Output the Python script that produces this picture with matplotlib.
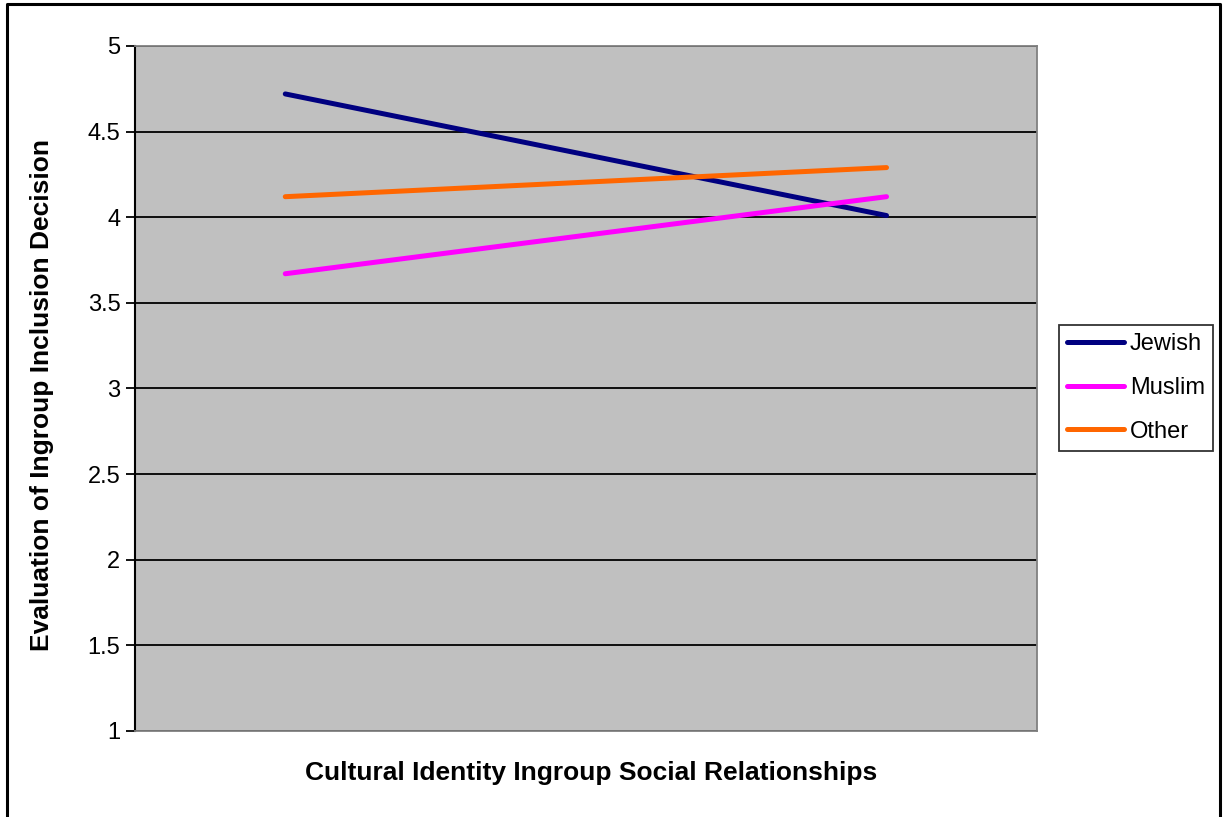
import matplotlib.pyplot as plt
from matplotlib.lines import Line2D

plt.rcParams['font.family'] = ['Liberation Sans', 'DejaVu Sans']

# Data (two levels of the x factor)
levels = [0, 1]
jewish = [4.72, 4.01]
muslim = [3.67, 4.12]
other = [4.12, 4.29]

series_names = ["Jewish", "Muslim", "Other"]
series_colors = ["#000080", "#FF00FF", "#FF6600"]
y_ticks = [1, 1.5, 2, 2.5, 3, 3.5, 4, 4.5, 5]
y_tick_labels = ["1", "1.5", "2", "2.5", "3", "3.5", "4", "4.5", "5"]

fig = plt.figure(figsize=(12.27, 8.17), dpi=100, facecolor="white")
ax = fig.add_axes([0.110, 0.1053, 0.735, 0.8384])
ax.set_facecolor("#C0C0C0")

for name, vals, col in zip(series_names, [jewish, muslim, other], series_colors):
    ax.plot(levels, vals, color=col, linewidth=3.6, solid_capstyle="round", label=name)

ax.set_xlim(-0.25, 1.25)
ax.set_ylim(1, 5)
ax.set_yticks(y_ticks)
ax.set_yticklabels(y_tick_labels, fontsize=17)
ax.set_xticks([])
ax.tick_params(axis="y", direction="out", length=6.5, width=1.3, color="black", pad=4)

# Excel-style gridlines and plot area border
ax.set_axisbelow(True)
ax.grid(axis="y", color="black", linewidth=1.3)
for side in ["top", "right", "bottom"]:
    ax.spines[side].set_color("#808080")
    ax.spines[side].set_linewidth(1.3)
ax.spines["left"].set_color("black")
ax.spines["left"].set_linewidth(1.5)

fig.text(42 / 1227, 1 - 395 / 817, "Evaluation of Ingroup Inclusion Decision",
         rotation=90, ha="center", va="center", fontsize=19, fontweight="bold")
fig.text(591 / 1227, 1 - 773 / 817, "Cultural Identity Ingroup Social Relationships",
         ha="center", va="center", fontsize=19, fontweight="bold")

leg = ax.legend(loc="upper left", bbox_to_anchor=(1059 / 1227, 1 - 325 / 817),
                bbox_transform=fig.transFigure, fontsize=17, frameon=True,
                fancybox=False, edgecolor="black", handlelength=2.4,
                handletextpad=0.25, labelspacing=0.92, borderpad=0.35,
                borderaxespad=0)
leg.get_frame().set_linewidth(1.3)

# Outer chart border (open at the bottom, as in the original)
fig.add_artist(Line2D([7 / 1227, 7 / 1227, 1220 / 1227, 1220 / 1227],
                      [0, 1 - 4 / 817, 1 - 4 / 817, 0],
                      transform=fig.transFigure, color="black", linewidth=2.2))

plt.savefig("out.png", dpi=100, facecolor="white")
